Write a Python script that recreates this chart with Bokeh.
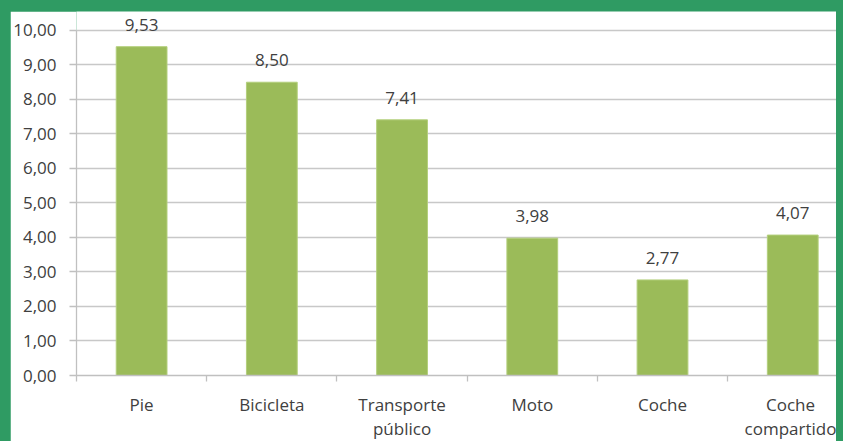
from bokeh.plotting import figure
from bokeh.models import ColumnDataSource, LabelSet, FixedTicker, Range1d
from bokeh.layouts import column
from bokeh.core.properties import value
from bokeh.embed import file_html
from bokeh.resources import INLINE

categories = ["Pie", "Bicicleta", "Transporte\npúblico", "Moto", "Coche", "Coche\ncompartido"]
values = [9.53, 8.50, 7.41, 3.98, 2.77, 4.07]
y_ticks = [0, 1, 2, 3, 4, 5, 6, 7, 8, 9, 10]

GREEN = "#2f9b63"
BAR = "#9bbb59"
TEXT = "#404040"
FONT = "Open Sans"

xs = list(range(len(categories)))
labels = [f"{v:.2f}".replace(".", ",") for v in values]
src = ColumnDataSource(dict(x=xs, top=values, label=labels))

p = figure(width=826, height=431, output_backend="svg", toolbar_location=None,
           x_range=Range1d(-0.5, 5.336), y_range=Range1d(0, 10.55))
p.margin = (11, 7, 0, 10)
p.min_border_left = 65
p.min_border_right = 0
p.min_border_top = 0
p.min_border_bottom = 56
p.outline_line_color = None
p.background_fill_color = "white"
p.border_fill_color = "white"

p.vbar(x="x", top="top", width=0.39, bottom=0, source=src,
       fill_color=BAR, line_color="#b3cf7c", line_width=1)

lbl = LabelSet(x="x", y="top", text="label", source=src, text_align="center",
               text_baseline="alphabetic", y_offset=16, text_font=value(FONT),
               text_font_size="17px", text_color=TEXT)
p.add_layout(lbl)

# y axis
p.yaxis.ticker = FixedTicker(ticks=y_ticks)
p.yaxis.bounds = (0, 10)
p.yaxis.major_label_overrides = {t: f"{t:.2f}".replace(".", ",") for t in y_ticks}
p.yaxis.major_label_text_font = FONT
p.yaxis.major_label_text_font_size = "17px"
p.yaxis.major_label_text_color = TEXT
p.yaxis.axis_line_color = "#c0c0c0"
p.yaxis.axis_line_width = 1.3
p.yaxis.major_tick_line_color = "#c0c0c0"
p.yaxis.major_tick_line_width = 1.3
p.yaxis.major_tick_out = 7
p.yaxis.major_tick_in = 0
p.yaxis.minor_tick_line_color = None
p.yaxis.major_label_standoff = 13

# x axis
p.xaxis.ticker = FixedTicker(ticks=xs, minor_ticks=[i - 0.5 for i in range(len(categories) + 1)])
p.xaxis.major_label_overrides = {i: c for i, c in enumerate(categories)}
p.xaxis.major_label_text_font = FONT
p.xaxis.major_label_text_font_size = "17px"
p.xaxis.major_label_text_color = TEXT
p.xaxis.major_label_text_line_height = 1.05
p.xaxis.axis_line_color = "#c0c0c0"
p.xaxis.axis_line_width = 1.3
p.xaxis.major_tick_line_color = None
p.xaxis.major_tick_out = 0
p.xaxis.major_tick_in = 0
p.xaxis.minor_tick_line_color = "#c0c0c0"
p.xaxis.minor_tick_line_width = 1.3
p.xaxis.minor_tick_out = 6
p.xaxis.minor_tick_in = 0
p.xaxis.major_label_standoff = 11

p.xgrid.grid_line_color = None
p.ygrid.grid_line_color = "#c8c8c8"
p.ygrid.grid_line_width = 1.3

layout = column(p, width=843, height=441,
                styles={"background-color": GREEN, "overflow": "hidden"})

open("out.html", "w").write(file_html(layout, INLINE))
